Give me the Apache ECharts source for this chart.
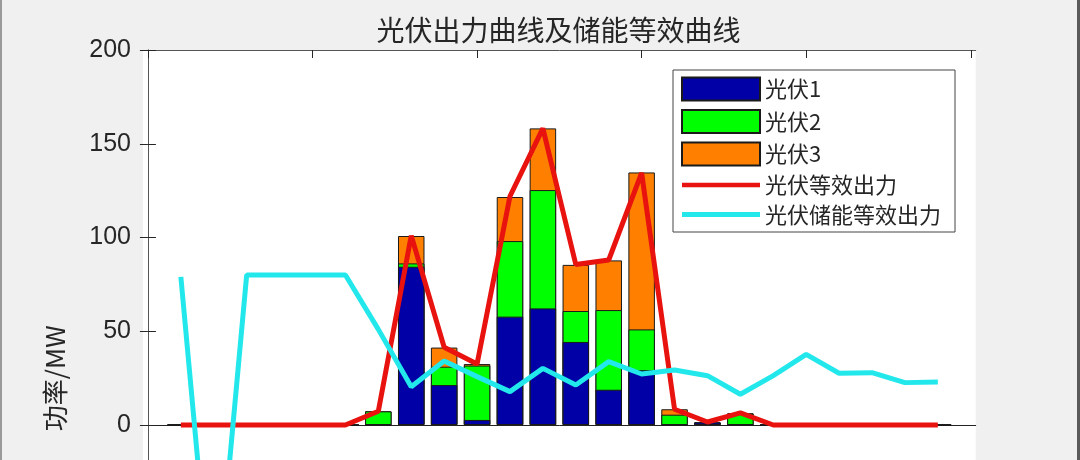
<!DOCTYPE html>
<html>
<head>
<meta charset="utf-8">
<script src="https://cdn.jsdelivr.net/npm/echarts@6/dist/echarts.min.js"></script>
<style>
html,body{margin:0;padding:0;background:#f0f0f0;overflow:hidden;}
#c{width:1080px;height:760px;}
</style>
</head>
<body>
<div id="c"></div>
<script>
const hours = [1,2,3,4,5,6,7,8,9,10,11,12,13,14,15,16,17,18,19,20,21,22,23,24];
const pv1 = [0,0,0,0,0,0,0,84.4,21.3,2.7,57.8,62.2,44.3,18.8,29.2,0,1.4,0,0,0,0,0,0,0];
const pv2 = [0,0,0,0,0,0,7.3,1.8,9.8,29.0,40.3,63.1,16.5,42.5,21.8,5.5,0,6.0,0,0,0,0,0,0];
const pv3 = [0,0,0,0,0,0,0,14.6,10.2,0.8,23.5,32.9,24.6,26.5,83.7,2.9,0,0.3,0,0,0,0,0,0];
const pvEq = [0,0,0,0,0,0,7.3,101,41.5,32.5,122,158.2,85.6,88,134.5,8.4,1.6,6.5,0,0,0,0,0,0];
const pvStorEq = [79,-112,80,80,80,80,51,20.4,34.1,25.8,17.8,30.2,21.3,33.8,27.2,29.3,26.3,16.4,26.3,37.7,27.6,27.9,22.6,22.9];
const xTicks = [0,5,10,15,20,25];
const seriesNames = ['光伏1','光伏2','光伏3','光伏等效出力','光伏储能等效出力'];
const titleText = '光伏出力曲线及储能等效曲线';
const yName = '功率/MW';

// stacked tops (bars overlaid, drawn from the tallest down)
const top1 = pv1.slice();
const top2 = pv1.map((v,i)=>v+pv2[i]);
const top3 = pv1.map((v,i)=>v+pv2[i]+pv3[i]);
const pair = arr => hours.map((h,i)=>[h, +arr[i].toFixed(3)]);

const axisColor = '#555';
const txtColor = '#262626';
const numFont = '"Liberation Sans", "Noto Sans CJK SC", sans-serif';
const cjkFont = '"Noto Sans CJK SC", "Liberation Sans", sans-serif';

const chart = echarts.init(document.getElementById('c'), null, {renderer:'canvas'});
const barStyle = c => ({color:c, borderColor:'#1a1a1a', borderWidth:1});
chart.setOption({
  animation:false,
  backgroundColor:'#f0f0f0',
  graphic:[
    {type:'rect', left:0, top:0, shape:{width:2, height:760}, style:{fill:'#9a9a9a'}, silent:true},
    {type:'rect', right:0, top:0, shape:{width:3, height:760}, style:{fill:'#5a5a5a'}, silent:true}
  ],
  title:{
    text:titleText, left:558.5, textAlign:'center', top:16, padding:0,
    textStyle:{fontFamily:cjkFont, fontSize:28, fontWeight:'normal', color:txtColor}
  },
  legend:{
    orient:'vertical', left:673, top:70,
    padding:[6.5,14,6.5,8], itemGap:7.5, itemWidth:78, itemHeight:23,
    backgroundColor:'#fff', borderColor:'#444', borderWidth:1, borderRadius:0,
    textStyle:{fontFamily:cjkFont, fontSize:22, color:txtColor},
    data:[
      {name:seriesNames[0], icon:'rect'},
      {name:seriesNames[1], icon:'rect'},
      {name:seriesNames[2], icon:'rect'},
      {name:seriesNames[3], icon:'path://M0,0H78V4.5H0Z'},
      {name:seriesNames[4], icon:'path://M0,0H78V5H0Z'}
    ]
  },
  grid:{left:143, right:104.3, top:50, bottom:53.75, show:true, backgroundColor:'#fff', borderWidth:0},
  xAxis:[
    {type:'value', min:-0.15, max:25.15, position:'bottom',
     axisLine:{show:true, onZero:true, lineStyle:{color:'#222', width:1}},
     axisTick:{show:false}, axisLabel:{show:false}, splitLine:{show:false}},
    {type:'value', min:-0.15, max:25.15, position:'top',
     axisLine:{show:true, onZero:false, lineStyle:{color:axisColor, width:1}},
     axisTick:{show:true, inside:true, length:8, customValues:xTicks, lineStyle:{color:txtColor}},
     axisLabel:{show:false}, splitLine:{show:false}}
  ],
  yAxis:[
    {type:'value', min:-150, max:200, interval:50, position:'left',
     name:yName, nameLocation:'middle', nameGap:75, nameRotate:90,
     nameTextStyle:{fontFamily:cjkFont, fontSize:26, color:txtColor},
     axisLine:{show:true, lineStyle:{color:axisColor, width:1}},
     axisTick:{show:true, inside:true, length:8, lineStyle:{color:txtColor}},
     axisLabel:{fontFamily:numFont, fontSize:25, color:txtColor, margin:12},
     splitLine:{show:false}},
    {type:'value', min:-150, max:200, interval:50, position:'right',
     axisLine:{show:true, lineStyle:{color:axisColor, width:1}},
     axisTick:{show:true, inside:true, length:8, lineStyle:{color:txtColor}},
     axisLabel:{show:false}, splitLine:{show:false}}
  ],
  series:[
    {name:seriesNames[2], type:'bar', barWidth:26.5, barGap:'-100%', data:pair(top3), itemStyle:barStyle('#ff8000')},
    {name:seriesNames[1], type:'bar', barWidth:26.5, barGap:'-100%', data:pair(top2), itemStyle:barStyle('#00ff00')},
    {name:seriesNames[0], type:'bar', barWidth:26.5, barGap:'-100%', data:pair(top1), itemStyle:barStyle('#0000a6')},
    {name:seriesNames[3], type:'line', data:pair(pvEq), symbol:'none', color:'#e8120f',
     lineStyle:{color:'#e8120f', width:5}},
    {name:seriesNames[4], type:'line', data:pair(pvStorEq), symbol:'none', color:'#22e8ec',
     lineStyle:{color:'#22e8ec', width:5}}
  ]
});
</script>
</body>
</html>
